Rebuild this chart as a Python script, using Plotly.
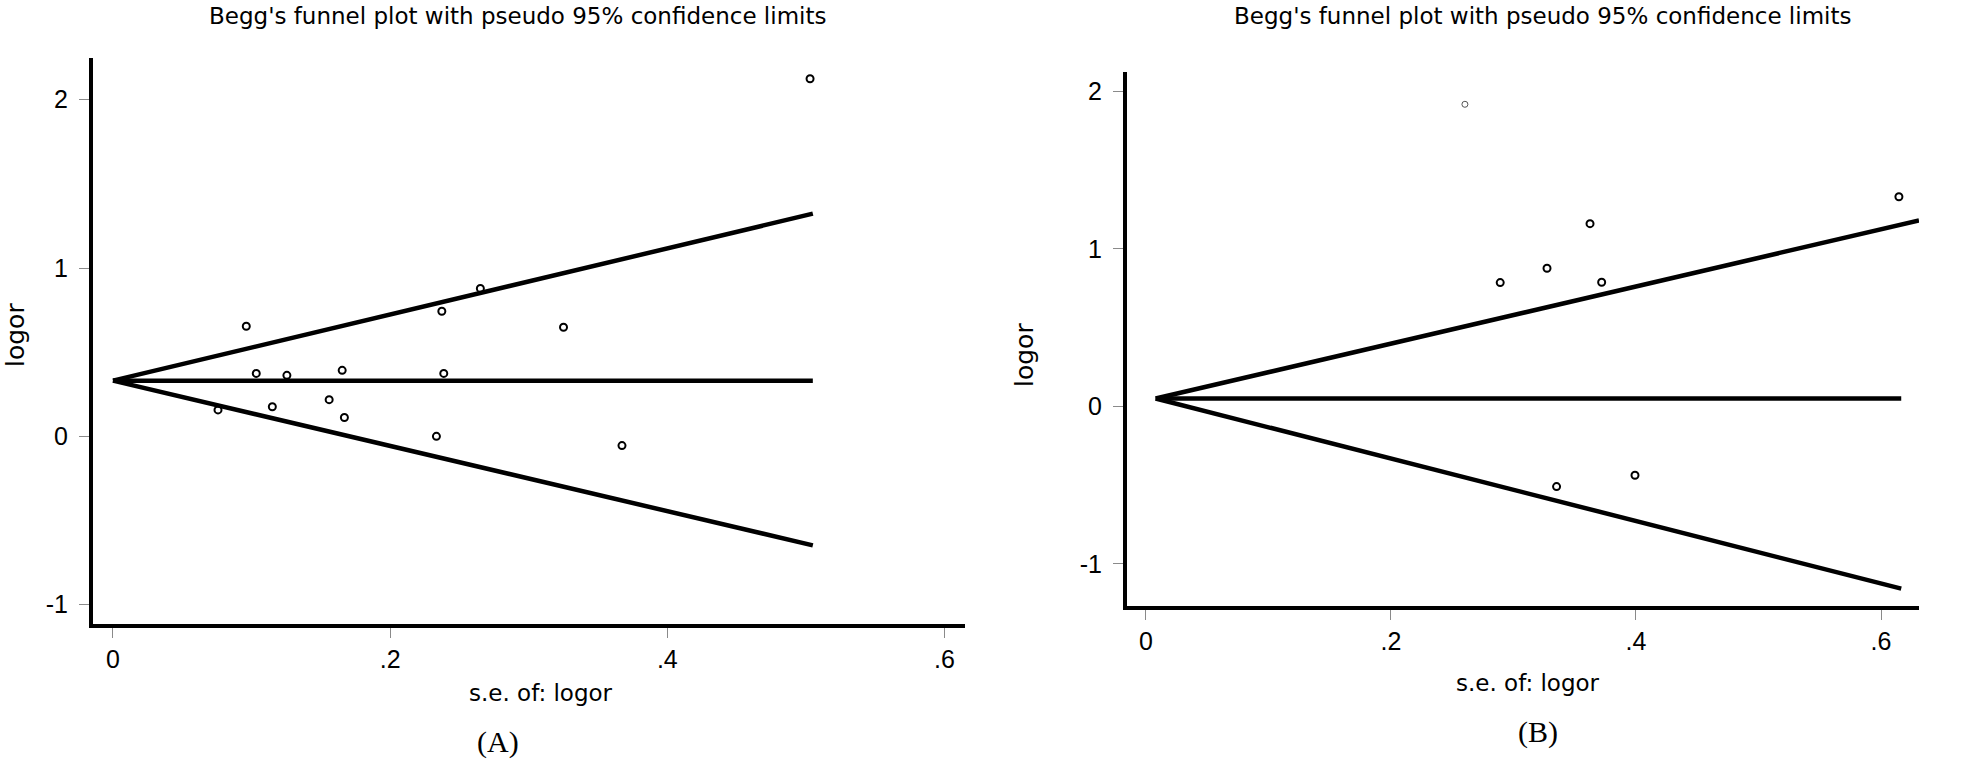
import plotly.graph_objects as go

W, H = 1967, 763

# ---------------- Panel A data ----------------
se_a = [0.0758, 0.0962, 0.1034, 0.1150, 0.1255, 0.1560, 0.1654, 0.1670,
        0.2334, 0.2373, 0.2387, 0.2651, 0.3251, 0.3673, 0.5030]
logor_a = [0.157, 0.654, 0.374, 0.176, 0.3625, 0.218, 0.392, 0.112,
           0.000, 0.743, 0.374, 0.879, 0.648, -0.055, 2.125]
# funnel lines, end points
line_se_a = [0.0, 0.505]
upper_a = [0.331, 1.323]
center_a = [0.331, 0.331]
lower_a = [0.331, -0.648]

# ---------------- Panel B data ----------------
se_b = [0.2892, 0.3274, 0.3352, 0.3625, 0.3720, 0.3992, 0.6146]
logor_b = [0.786, 0.877, -0.509, 1.160, 0.788, -0.437, 1.331]
se_b_faint = [0.2604]
logor_b_faint = [1.918]
upper_se_b = [0.008, 0.631]
upper_b = [0.05, 1.181]
line_se_b = [0.008, 0.6165]
center_b = [0.05, 0.05]
lower_b = [0.05, -1.157]

xtick_vals = [0, 0.2, 0.4, 0.6]
xtick_text = ["0", ".2", ".4", ".6"]
ytick_vals = [-1, 0, 1, 2]
ytick_text = ["-1", "0", "1", "2"]

title_text = "Begg's funnel plot with pseudo 95% confidence limits"
xtitle_text = "s.e. of: logor"
ytitle_text = "logor"
panel_labels = ["(A)", "(B)"]


def px(x):
    return x / W


def py(y):
    return 1 - y / H


fig = go.Figure()

LW = 4.5
marker_main = dict(symbol="circle-open", size=7, color="black", line=dict(width=2, color="black"))

# Panel A
for yy in (upper_a, center_a, lower_a):
    fig.add_trace(go.Scatter(x=line_se_a, y=yy, mode="lines", line=dict(color="black", width=LW),
                             xaxis="x", yaxis="y", showlegend=False, hoverinfo="skip"))
fig.add_trace(go.Scatter(x=se_a, y=logor_a, mode="markers", marker=marker_main,
                         xaxis="x", yaxis="y", showlegend=False))

# Panel B
fig.add_trace(go.Scatter(x=upper_se_b, y=upper_b, mode="lines", line=dict(color="black", width=LW),
                         xaxis="x2", yaxis="y2", showlegend=False, hoverinfo="skip"))
for yy in (center_b, lower_b):
    fig.add_trace(go.Scatter(x=line_se_b, y=yy, mode="lines", line=dict(color="black", width=LW),
                             xaxis="x2", yaxis="y2", showlegend=False, hoverinfo="skip"))
fig.add_trace(go.Scatter(x=se_b, y=logor_b, mode="markers", marker=marker_main,
                         xaxis="x2", yaxis="y2", showlegend=False))
fig.add_trace(go.Scatter(x=se_b_faint, y=logor_b_faint, mode="markers",
                         marker=dict(symbol="circle-open", size=6, color="#555555",
                                     line=dict(width=1, color="#555555")),
                         xaxis="x2", yaxis="y2", showlegend=False))

tickfont = dict(family="Liberation Sans, Arial, sans-serif", size=25, color="black")
common_x = dict(showline=True, linewidth=4, linecolor="black", mirror=False,
                showgrid=False, zeroline=False, ticks="outside", ticklen=10, tickwidth=1,
                tickcolor="#8a8a8a", tickvals=xtick_vals, ticktext=xtick_text,
                tickfont=tickfont, fixedrange=True)
common_y = dict(showline=True, linewidth=4, linecolor="black", mirror=False,
                showgrid=False, zeroline=False, ticks="outside", ticklen=10, tickwidth=1,
                tickcolor="#8a8a8a", tickvals=ytick_vals, ticktext=ytick_text,
                tickfont=tickfont, fixedrange=True, ticklabelstandoff=6)

fig.update_layout(
    width=W, height=H, autosize=False,
    margin=dict(l=0, r=0, t=0, b=0),
    paper_bgcolor="white", plot_bgcolor="white",
    xaxis=dict(common_x, domain=[px(93), px(965)], range=[-0.0144, 0.6148], anchor="y"),
    yaxis=dict(common_y, domain=[py(624), py(58)], range=[-1.115, 2.248], anchor="x"),
    xaxis2=dict(common_x, domain=[px(1127), px(1919)], range=[-0.0154, 0.631], anchor="y2"),
    yaxis2=dict(common_y, domain=[py(606), py(72)], range=[-1.267, 2.123], anchor="x2"),
)

txt = dict(family="DejaVu Sans, Liberation Sans, sans-serif", size=23, color="black")
lab = dict(family="Liberation Serif, DejaVu Serif, serif", size=30, color="black")

ann = [
    (517, 16, title_text, txt, 0),
    (1542, 16, title_text, txt, 0),
    (541, 693, xtitle_text, txt, 0),
    (1528, 683, xtitle_text, txt, 0),
    (15, 335, ytitle_text, dict(txt, size=25), -90),
    (1024, 355, ytitle_text, dict(txt, size=25), -90),
    (498, 742, panel_labels[0], lab, 0),
    (1538, 732, panel_labels[1], lab, 0),
]
for x, y, t, f, rot in ann:
    fig.add_annotation(x=px(x), y=py(y), xref="paper", yref="paper", text=t, showarrow=False,
                       font=f, textangle=rot, xanchor="center", yanchor="middle")

fig.write_html("out.html", config={"displayModeBar": False},
               post_script="document.body.style.margin='0';document.body.style.overflow='hidden';")
